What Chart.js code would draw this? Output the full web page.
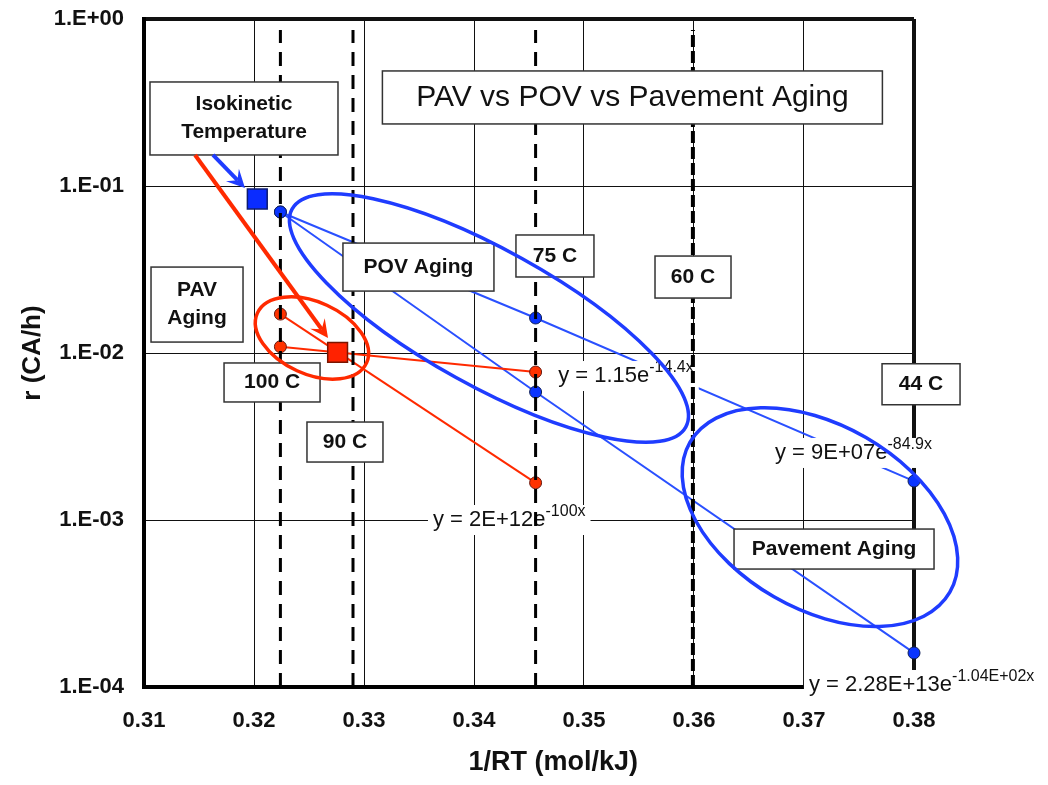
<!DOCTYPE html>
<html>
<head>
<meta charset="utf-8">
<script src="https://cdn.jsdelivr.net/npm/chart.js@4.4.0/dist/chart.umd.min.js"></script>
<style>
  html, body { margin: 0; padding: 0; background: #fff; }
  #wrap { width: 1048px; height: 785px; position: relative; }
</style>
</head>
<body>
<div id="wrap"><canvas id="chart"></canvas></div>
<script>
// --- axis ticks ---
const xTicks = [0.31, 0.32, 0.33, 0.34, 0.35, 0.36, 0.37, 0.38];
const xTickLabels = ['0.31', '0.32', '0.33', '0.34', '0.35', '0.36', '0.37', '0.38'];
const yTicks = [1e-4, 1e-3, 1e-2, 1e-1, 1];
const yTickLabels = ['1.E-04', '1.E-03', '1.E-02', '1.E-01', '1.E+00'];

// --- iso-temperature dashed lines (1/RT) ---
const tempX = [0.3224, 0.3290, 0.3456, 0.3599];
const dashTop = 0.86;

// --- PAV aging (red) ---
const pavX = [0.3224, 0.3456];
const pavUpper = [0.0171, 0.00167];
const pavLower = [0.0109, 0.00769];

// --- POV + pavement aging (blue) ---
const povX = [0.3224, 0.3456, 0.38];
const povUpper = [0.0699, 0.0162, 0.00171];
const povLower = [0.0699, 0.00584, 0.000160];

// --- isokinetic points ---
const isoX = [0.3203, 0.3276];
const isoY = [0.0836, 0.0101];

const FONT = "'Liberation Sans', Arial, sans-serif";
const BLUE = '#1f3cff';
const RED = '#ff2a00';

const toPts = (xs, ys) => xs.map((x, i) => ({ x: x, y: ys[i] }));

// --- annotations (data coordinates) ---
const boxes = [
    { lines: ['PAV vs POV vs Pavement Aging'], x: 0.3544, y: 0.339, w: 500, h: 53, font: '30px ' + FONT },
    { lines: ['Isokinetic', 'Temperature'], x: 0.31909, y: 0.2537, w: 188, h: 73 },
    { lines: ['POV Aging'], x: 0.33495, y: 0.0327, w: 151, h: 48 },
    { lines: ['75 C'], x: 0.34736, y: 0.0381, w: 78, h: 42 },
    { lines: ['60 C'], x: 0.35991, y: 0.0285, w: 76, h: 42 },
    { lines: ['PAV', 'Aging'], x: 0.31482, y: 0.0195, w: 92, h: 75 },
    { lines: ['100 C'], x: 0.32164, y: 0.00666, w: 96, h: 39 },
    { lines: ['90 C'], x: 0.32827, y: 0.00293, w: 76, h: 40 },
    { lines: ['44 C'], x: 0.38064, y: 0.00650, w: 78, h: 41 },
    { lines: ['Pavement Aging'], x: 0.37273, y: 0.00067, w: 200, h: 40 }
];

const equations = [
    { main: 'y = 1.15e', sup: '-14.4x', x: 0.34765, y: 0.00728 },
    { main: 'y = 9E+07e', sup: '-84.9x', x: 0.36736, y: 0.00252 },
    { main: 'y = 2E+12e', sup: '-100x', x: 0.33627, y: 0.001 },
    { main: 'y = 2.28E+13e', sup: '-1.04E+02x', x: 0.37045, y: 0.0001028 }
];

const ellipses = [
    { x: 0.34136, y: 0.0162, a: 225, b: 68, deg: 29, color: BLUE },
    { x: 0.32527, y: 0.0123, a: 60, b: 36, deg: 24.5, color: RED },
    { x: 0.37145, y: 0.00104, a: 150, b: 92, deg: 30, color: BLUE }
];

const arrows = [
    { from: [0.31464, 0.1534], to: [0.32673, 0.0123], color: RED },
    { from: [0.31627, 0.1534], to: [0.31918, 0.0973], color: BLUE }
];

const xTitle = { text: '1/RT (mol/kJ)', x: 0.3472 };

// --- datasets: index 0 is drawn last (on top) ---
const datasets = [];
tempX.forEach((x, i) => {
    datasets.push({
        data: [{ x: x, y: yTicks[0] }, { x: x, y: dashTop }],
        showLine: true,
        borderColor: '#000',
        borderWidth: i === 3 ? 4 : 3,
        borderDash: i === 3 ? [12, 4] : [14, 9],
        pointRadius: 0
    });
});
datasets.push({
    data: [{ x: isoX[0], y: isoY[0] }],
    pointStyle: 'rect', pointRadius: 14,
    backgroundColor: '#0a2cff', borderColor: '#0b1a70', borderWidth: 1.5
});
datasets.push({
    data: [{ x: isoX[1], y: isoY[1] }],
    pointStyle: 'rect', pointRadius: 14,
    backgroundColor: '#ff2200', borderColor: '#7a1500', borderWidth: 1.5
});
[pavUpper, pavLower].forEach(ys => {
    datasets.push({
        data: toPts(pavX, ys), showLine: true,
        borderColor: RED, borderWidth: 2,
        pointRadius: 6, pointBackgroundColor: '#ff3300', pointBorderColor: '#6a1a10', pointBorderWidth: 1
    });
});
[povUpper, povLower].forEach(ys => {
    datasets.push({
        data: toPts(povX, ys), showLine: true, clip: false,
        borderColor: '#2a50ff', borderWidth: 2,
        pointRadius: 6, pointBackgroundColor: '#0a35ff', pointBorderColor: '#10205a', pointBorderWidth: 1
    });
});

const DASHED_COUNT = tempX.length;

function drawArrow(ctx, x1, y1, x2, y2, color) {
    const ang = Math.atan2(y2 - y1, x2 - x1);
    const len = 18, half = 9;
    ctx.save();
    ctx.strokeStyle = color;
    ctx.fillStyle = color;
    ctx.lineWidth = 4;
    ctx.beginPath();
    ctx.moveTo(x1, y1);
    ctx.lineTo(x2 - Math.cos(ang) * len * 0.6, y2 - Math.sin(ang) * len * 0.6);
    ctx.stroke();
    ctx.translate(x2, y2);
    ctx.rotate(ang);
    ctx.beginPath();
    ctx.moveTo(0, 0);
    ctx.lineTo(-len, -half);
    ctx.lineTo(-len * 0.6, 0);
    ctx.lineTo(-len, half);
    ctx.closePath();
    ctx.fill();
    ctx.restore();
}

const annotationPlugin = {
    id: 'annotations',
    beforeDatasetDraw(chart, args) {
        // trend-line equations sit under the dashed temperature lines
        if (args.index !== DASHED_COUNT - 1) return;
        const { ctx, scales: { x, y } } = chart;
        ctx.save();
        equations.forEach(e => {
            const x0 = x.getPixelForValue(e.x), y0 = y.getPixelForValue(e.y);
            ctx.font = '22px ' + FONT;
            const w1 = ctx.measureText(e.main).width;
            ctx.font = '16px ' + FONT;
            const w2 = ctx.measureText(e.sup).width;
            ctx.fillStyle = '#fff';
            ctx.fillRect(x0 - 5, y0 - 15, w1 + w2 + 10, 30);
            ctx.fillStyle = '#111';
            ctx.textAlign = 'left';
            ctx.textBaseline = 'middle';
            ctx.font = '22px ' + FONT;
            ctx.fillText(e.main, x0, y0);
            ctx.font = '16px ' + FONT;
            ctx.fillText(e.sup, x0 + w1, y0 - 8);
        });
        ctx.restore();
    },
    afterDatasetsDraw(chart) {
        const { ctx, scales: { x, y } } = chart;
        ctx.save();
        boxes.forEach(b => {
            const cx = x.getPixelForValue(b.x), cy = y.getPixelForValue(b.y);
            ctx.fillStyle = '#fff';
            ctx.strokeStyle = '#333';
            ctx.lineWidth = 1.5;
            ctx.fillRect(cx - b.w / 2, cy - b.h / 2, b.w, b.h);
            ctx.strokeRect(cx - b.w / 2, cy - b.h / 2, b.w, b.h);
            ctx.fillStyle = '#111';
            ctx.font = b.font || ('bold 21px ' + FONT);
            ctx.textAlign = 'center';
            ctx.textBaseline = 'middle';
            const lh = 28;
            b.lines.forEach((t, i) => {
                ctx.fillText(t, cx, cy + (i - (b.lines.length - 1) / 2) * lh);
            });
        });
        arrows.forEach(a => {
            drawArrow(ctx,
                x.getPixelForValue(a.from[0]), y.getPixelForValue(a.from[1]),
                x.getPixelForValue(a.to[0]), y.getPixelForValue(a.to[1]), a.color);
        });
        ellipses.forEach(el => {
            ctx.beginPath();
            ctx.strokeStyle = el.color;
            ctx.lineWidth = 3.5;
            ctx.ellipse(x.getPixelForValue(el.x), y.getPixelForValue(el.y), el.a, el.b,
                el.deg * Math.PI / 180, 0, Math.PI * 2);
            ctx.stroke();
        });
        // x axis title (sits a little right of the plot centre in the original)
        ctx.fillStyle = '#111';
        ctx.font = 'bold 27px ' + FONT;
        ctx.textAlign = 'center';
        ctx.textBaseline = 'middle';
        ctx.fillText(xTitle.text, x.getPixelForValue(xTitle.x), x.bottom - 22);
        ctx.restore();
    }
};

new Chart(document.getElementById('chart'), {
    type: 'scatter',
    data: { datasets: datasets },
    plugins: [annotationPlugin],
    options: {
        responsive: true,
        maintainAspectRatio: false,
        animation: false,
        layout: { padding: { top: 19, right: 134, left: 0, bottom: 0 } },
        plugins: {
            legend: { display: false },
            tooltip: { enabled: false }
        },
        scales: {
            x: {
                type: 'linear',
                min: 0.31,
                max: 0.38,
                afterBuildTicks: scale => { scale.ticks = xTicks.map(v => ({ value: v })); },
                afterFit: scale => { scale.height = 98; },
                ticks: {
                    callback: (v, i) => xTickLabels[i],
                    color: '#111',
                    padding: 21,
                    maxRotation: 0,
                    font: { family: FONT, size: 22, weight: 'bold' }
                },
                grid: {
                    drawTicks: false,
                    color: '#111',
                    lineWidth: ctx => ctx.index === xTicks.length - 1 ? 4 : 1
                },
                border: { display: true, color: '#000', width: 4 }
            },
            y: {
                type: 'logarithmic',
                min: 1e-4,
                max: 1,
                afterBuildTicks: scale => { scale.ticks = yTicks.map(v => ({ value: v })); },
                afterFit: scale => {
                    scale.width = 144;
                    // label padding would otherwise push the plot top down
                    scale.paddingTop = 0;
                    scale.paddingBottom = 0;
                },
                ticks: {
                    callback: (v, i) => yTickLabels[i],
                    color: '#111',
                    padding: 20,
                    font: { family: FONT, size: 22, weight: 'bold' }
                },
                grid: {
                    drawTicks: false,
                    color: '#111',
                    lineWidth: ctx => ctx.index === yTicks.length - 1 ? 4 : 1
                },
                border: { display: true, color: '#000', width: 4 },
                title: {
                    display: true,
                    text: 'r (CA/h)',
                    color: '#111',
                    padding: { top: 17, bottom: 0 },
                    font: { family: FONT, size: 26, weight: 'bold' }
                }
            }
        }
    }
});
</script>
</body>
</html>
